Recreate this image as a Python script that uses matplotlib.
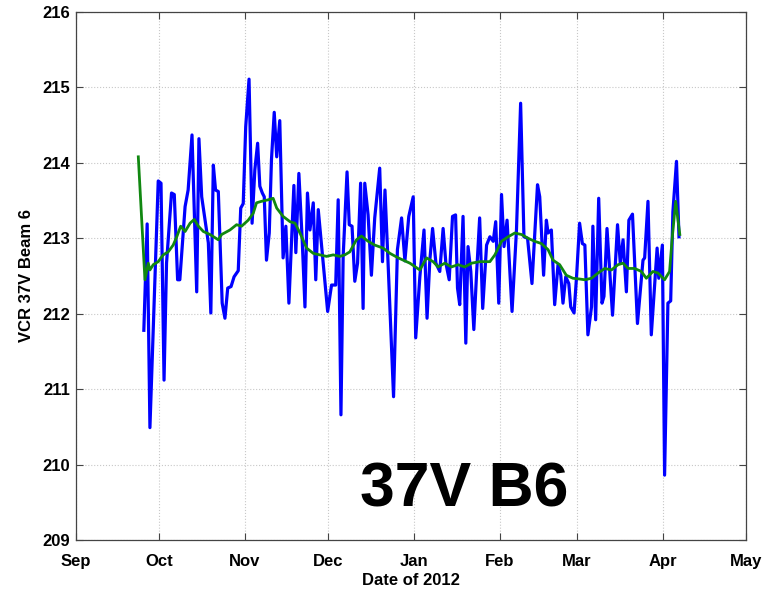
import pandas as pd
import matplotlib
matplotlib.use("Agg")
import matplotlib.pyplot as plt
import matplotlib.dates as mdates

plt.rcParams['font.family'] = ['Liberation Sans', 'DejaVu Sans']

start = pd.Timestamp('2012-09-01')

# daily VCR (blue): days since 1 Sep 2012, value
vcr_day = [24.5, 25.7, 26.7, 29.7, 30.7, 31.8, 32.7, 34.5, 35.5, 36.7, 37.5, 39.4, 40.5,
           41.9, 43.6, 44.4, 45.4, 47.8, 48.7, 49.6, 50.4, 51.4, 52.8, 53.8, 54.8, 56.0,
           57.1, 58.6, 59.5, 60.4, 61.3, 62.5, 63.6, 64.6, 65.6, 66.4, 67.3, 68.0, 68.8,
           69.8, 70.6, 71.6, 72.5, 73.6, 74.3, 74.8, 75.8, 76.9, 77.9, 78.7, 79.4, 80.5,
           81.7, 82.7, 83.6, 84.5, 85.7, 86.6, 87.5, 89.3, 90.9, 92.3, 93.8, 94.7, 95.7,
           96.5, 97.9, 98.7, 99.7, 100.7, 101.7, 102.8, 103.7, 104.3, 105.5, 106.7, 107.9,
           109.7, 110.7, 111.6, 112.7, 114.7, 116.1, 117.6, 118.8, 120.2, 121.8, 122.7,
           124.2, 125.7, 126.8, 127.8, 128.8, 130.0, 131.4, 132.6, 133.6, 134.8, 136.0,
           137.1, 137.8, 138.6, 139.8, 140.8, 141.6, 142.6, 143.7, 144.7, 145.8, 146.9,
           148.3, 149.5, 150.7, 151.6, 152.7, 153.7, 154.6, 155.7, 157.5, 159.1, 160.6,
           161.8, 163.1, 164.7, 166.7, 167.5, 168.9, 169.9, 170.5, 171.7, 172.9, 174.1,
           175.1, 175.9, 176.9, 178.0, 178.7, 179.9, 180.8, 181.9, 182.9, 183.8, 184.9,
           186.2, 186.7, 187.7, 188.8, 190.0, 190.7, 191.8, 193.8, 195.6, 196.6, 197.6,
           198.8, 199.7, 201.0, 202.8, 204.8, 205.4, 206.6, 207.8, 209.9, 210.5, 211.8,
           212.6, 213.8, 214.8, 215.6, 216.9, 217.8]
vcr_val = [211.78, 213.19, 210.49, 213.76, 213.73, 211.12, 212.67, 213.60, 213.58, 212.45,
           212.45, 213.42, 213.64, 214.37, 212.29, 214.32, 213.55, 212.94, 212.01, 213.97,
           213.64, 213.62, 212.14, 211.94, 212.34, 212.36, 212.49, 212.57, 213.40, 213.46,
           214.48, 215.11, 213.20, 213.91, 214.26, 213.69, 213.60, 213.55, 212.71, 213.07,
           214.04, 214.67, 214.08, 214.56, 213.51, 212.74, 213.16, 212.14, 213.02, 213.70,
           212.81, 213.86, 212.98, 212.09, 213.60, 213.11, 213.47, 212.45, 213.38, 212.67,
           212.03, 212.38, 212.38, 213.51, 210.66, 212.76, 213.88, 213.18, 213.16, 212.43,
           212.67, 213.73, 212.07, 213.73, 213.31, 212.51, 213.27, 213.93, 212.69, 213.64,
           212.69, 210.90, 212.85, 213.27, 212.70, 213.29, 213.55, 211.68, 212.49, 213.11,
           211.94, 212.71, 213.13, 212.67, 212.56, 213.13, 212.67, 212.45, 213.29, 213.31,
           212.34, 212.12, 213.29, 211.61, 212.89, 212.56, 211.79, 212.54, 213.27, 212.07,
           212.91, 213.02, 212.96, 213.22, 212.14, 213.58, 212.89, 213.24, 212.03, 213.11,
           214.79, 213.02, 213.00, 212.40, 213.71, 213.55, 212.51, 213.24, 213.07, 213.11,
           212.12, 212.65, 212.51, 212.14, 212.49, 212.40, 212.09, 212.01, 212.49, 213.20,
           212.93, 212.91, 211.72, 212.09, 213.16, 211.92, 213.53, 212.14, 212.23, 213.13,
           211.98, 213.18, 212.67, 212.98, 212.29, 213.24, 213.32, 211.87, 212.71, 212.74,
           213.49, 211.72, 212.87, 212.47, 212.91, 209.86, 212.14, 212.17, 213.35, 214.02,
           213.02]

# running mean (green)
avg_day = [22.5, 24.9, 26.1, 26.7, 27.9, 29.7, 31.5, 33.3, 35.1, 36.4, 37.8, 39.4, 41.2,
           42.7, 44.2, 46.0, 48.4, 51.4, 52.6, 55.6, 58.0, 59.8, 62.2, 64.0, 65.2, 67.0,
           69.4, 71.2, 72.5, 74.8, 77.3, 79.1, 80.9, 83.3, 85.7, 88.1, 90.5, 92.9, 95.3,
           97.1, 98.9, 101.3, 103.1, 105.5, 107.9, 110.9, 113.4, 116.4, 120.6, 124.2, 126.6,
           129.0, 130.8, 133.2, 135.6, 138.0, 140.4, 142.9, 145.8, 149.5, 151.3, 153.7,
           156.1, 158.5, 160.9, 163.3, 165.7, 168.1, 170.5, 172.3, 174.7, 177.1, 179.5,
           181.9, 183.8, 186.2, 188.6, 191.0, 193.4, 195.8, 197.6, 199.4, 201.8, 204.2,
           206.0, 208.4, 210.2, 212.6, 214.4, 215.3, 216.6, 218.1]
avg_val = [214.08, 212.45, 212.67, 212.58, 212.65, 212.69, 212.78, 212.82, 212.91, 213.02,
           213.16, 213.09, 213.20, 213.25, 213.16, 213.09, 213.05, 212.98, 213.05, 213.11,
           213.18, 213.16, 213.24, 213.33, 213.47, 213.49, 213.51, 213.53, 213.40, 213.29,
           213.22, 213.20, 213.07, 212.87, 212.80, 212.78, 212.76, 212.78, 212.76, 212.78,
           212.82, 212.98, 213.03, 212.96, 212.91, 212.87, 212.80, 212.74, 212.67, 212.58,
           212.74, 212.69, 212.62, 212.67, 212.62, 212.65, 212.62, 212.67, 212.69, 212.69,
           212.78, 212.96, 213.02, 213.07, 213.05, 213.00, 212.96, 212.93, 212.85, 212.71,
           212.65, 212.51, 212.47, 212.46, 212.45, 212.47, 212.54, 212.60, 212.58, 212.65,
           212.67, 212.60, 212.60, 212.56, 212.47, 212.56, 212.54, 212.45, 212.56, 212.98,
           213.49, 213.05]

vcr_t = [start + pd.Timedelta(days=d) for d in vcr_day]
avg_t = [start + pd.Timedelta(days=d) for d in avg_day]

fig = plt.figure(figsize=(7.74, 5.91), dpi=100)
ax = fig.add_axes([0.0982, 0.0863, 0.8656, 0.8934])

ax.plot(vcr_t, vcr_val, color='#0000ff', lw=2.3)
ax.plot(avg_t, avg_val, color='#118811', lw=2.0)

ax.set_xlim(pd.Timestamp('2012-09-01'), pd.Timestamp('2013-05-01'))
ax.set_ylim(209, 216)
ax.xaxis.set_major_locator(mdates.MonthLocator())
ax.xaxis.set_major_formatter(mdates.DateFormatter('%b'))
ax.set_yticks(range(209, 217))

ax.grid(True, ls=':', color='#c8c8c8', lw=0.8)
ax.tick_params(direction='in', length=5, top=True, right=True, labelsize=12,
               color='#444444')
ax.tick_params(axis='x', pad=10)
ax.tick_params(axis='y', pad=4)
for lab in ax.get_xticklabels() + ax.get_yticklabels():
    lab.set_fontweight('bold')
for s in ax.spines.values():
    s.set_color('#444444')
    s.set_linewidth(0.9)

ax.set_xlabel('Date of 2012', fontsize=12, fontweight='bold', labelpad=3)
ax.set_ylabel('VCR 37V Beam 6', fontsize=12, fontweight='bold', labelpad=6)

ax.text(0.58, 0.094, '37V B6', transform=ax.transAxes, fontsize=45, fontweight='bold',
        ha='center', va='center')

fig.savefig('out.png', dpi=100)
